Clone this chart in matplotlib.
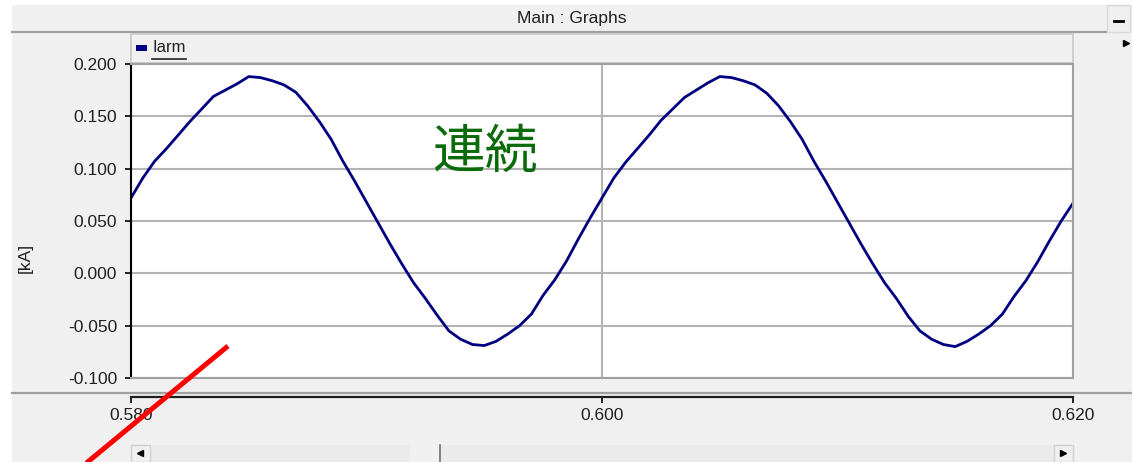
import numpy as np
import matplotlib.pyplot as plt
from matplotlib.patches import Rectangle
from matplotlib.lines import Line2D

W, H = 1132, 462

# arm current [kA], every 0.5 ms
iarm_first = [0.072, 0.091, 0.107, 0.119, 0.132, 0.145, 0.157, 0.169, 0.175, 0.181,
              0.188, 0.187, 0.184, 0.180, 0.173, 0.160, 0.145, 0.128, 0.107, 0.088,
              0.068, 0.048, 0.028, 0.009, -0.009, -0.024, -0.040, -0.055, -0.063, -0.068,
              -0.069, -0.065, -0.058, -0.050, -0.039, -0.021, -0.006, 0.012, 0.033, 0.053,
              0.072]
iarm_second = [0.091, 0.106, 0.119, 0.132, 0.146, 0.157, 0.168, 0.175, 0.182,
               0.188, 0.187, 0.184, 0.180, 0.172, 0.160, 0.145, 0.128, 0.107, 0.088,
               0.068, 0.048, 0.028, 0.009, -0.009, -0.024, -0.041, -0.055, -0.063, -0.068,
               -0.070, -0.065, -0.058, -0.050, -0.039, -0.022, -0.007, 0.011, 0.031, 0.050,
               0.067]
iarm = iarm_first + iarm_second
time = np.linspace(0.580, 0.620, len(iarm))

y_ticks = [0.200, 0.150, 0.100, 0.050, 0.000, -0.050, -0.100]
x_ticks = [0.580, 0.600, 0.620]

plt.rcParams['font.family'] = ['Liberation Sans', 'DejaVu Sans']

GRAY_LINE = '#a0a0a0'
PANEL = '#f0f0f0'
TXT = '#202020'


def fx(px):
    return px / W


def fy(py):
    return 1 - py / H


def fig_rect(x0, y0, x1, y1, zorder=0.5, **kw):
    fig.add_artist(Rectangle((fx(x0), fy(y1)), fx(x1) - fx(x0), fy(y0) - fy(y1),
                             transform=fig.transFigure, zorder=zorder, **kw))


def fig_line(xs, ys, zorder=0.5, **kw):
    fig.add_artist(Line2D([fx(x) for x in xs], [fy(y) for y in ys],
                          transform=fig.transFigure, zorder=zorder, **kw))


fig = plt.figure(figsize=(W / 100, H / 100), dpi=100, facecolor='white')

# window panel + title bar
fig_rect(12, 5, 1132, 462, zorder=-10, facecolor=PANEL, edgecolor='none')
fig_line([12, 1107], [32, 32], color=GRAY_LINE, lw=1.6)
fig.text(fx(572), fy(18), 'Main : Graphs', ha='center', va='center',
         fontsize=12.5, color=TXT)
fig_rect(1107, 5, 1130, 32, facecolor=PANEL, edgecolor='#d8d8d8', lw=1)
fig_line([1114, 1123], [21, 21], color='black', lw=2)
fig.add_artist(Line2D([fx(1126)], [fy(43)], marker='>', ms=5, color='black',
                      transform=fig.transFigure))

# legend strip
fig_rect(131, 34, 1073, 63, facecolor=PANEL, edgecolor='#c8c8c8', lw=1.2)
fig_rect(136, 45, 147, 51, facecolor='#000080', edgecolor='none')
fig.text(fx(153), fy(48), 'Iarm', ha='left', va='center', fontsize=12, color=TXT)
fig_line([152, 186], [59, 59], color=TXT, lw=1.2)

# main plot
ax = fig.add_axes([fx(131), fy(378), (1073 - 131) / W, (378 - 64) / H])
ax.set_zorder(2)
ax.set_facecolor('white')
ax.plot(time, iarm, color='#000080', lw=2.0, solid_joinstyle='round')
ax.set_xlim(0.580, 0.620)
ax.set_ylim(-0.100, 0.200)
ax.set_yticks(y_ticks)
ax.set_yticklabels([f'{v:.3f}' for v in y_ticks])
ax.set_xticks(x_ticks)
ax.tick_params(axis='x', length=0, labelbottom=False)
ax.tick_params(axis='y', length=4.5, width=1.2, color='black', pad=5.5,
               labelsize=12.5, labelcolor=TXT)
ax.grid(True, color='#b4b4b4', lw=1.5)
ax.set_axisbelow(True)
for side in ['top', 'right', 'bottom']:
    ax.spines[side].set_color(GRAY_LINE)
    ax.spines[side].set_linewidth(1.5)
ax.spines['left'].set_color('black')
ax.spines['left'].set_linewidth(1.5)

fig.text(fx(25), fy(258), '[kA]', rotation=90, ha='center', va='center',
         fontsize=12.5, color=TXT)

fig.text(fx(485), fy(152), '連続', ha='center', va='center', fontsize=38,
         color='#0b6b0b', family=['Noto Sans CJK JP', 'DejaVu Sans'], zorder=5)

# separator + time axis
fig_line([12, 1132], [392.5, 392.5], color=GRAY_LINE, lw=1.6)
ax2 = fig.add_axes([fx(131), fy(397), (1073 - 131) / W, 0.5 / H])
ax2.set_zorder(2)
ax2.set_facecolor('none')
ax2.set_xlim(0.580, 0.620)
ax2.set_xticks(x_ticks)
ax2.set_xticklabels([f'{v:.3f}' for v in x_ticks])
ax2.set_yticks([])
ax2.tick_params(axis='x', length=4.5, width=1.2, color='black', pad=3.5,
                labelsize=12.5, labelcolor=TXT)
for side in ['top', 'right', 'left']:
    ax2.spines[side].set_visible(False)
ax2.spines['bottom'].set_color('#202020')
ax2.spines['bottom'].set_linewidth(1.6)

# scroll bar
fig_rect(131, 445, 1073, 462, facecolor='#ebebeb', edgecolor='none')
fig_rect(131, 445, 150, 462, facecolor=PANEL, edgecolor='#d0d0d0', lw=1)
fig_rect(1054, 445, 1073, 462, facecolor=PANEL, edgecolor='#d0d0d0', lw=1)
fig_rect(410, 445, 440, 462, facecolor=PANEL, edgecolor='none')
fig_line([440, 440], [445, 462], color='#707070', lw=1.2)
fig.add_artist(Line2D([fx(140)], [fy(453)], marker='<', ms=5, color='black',
                      transform=fig.transFigure))
fig.add_artist(Line2D([fx(1063)], [fy(453)], marker='>', ms=5, color='black',
                      transform=fig.transFigure))

# red annotation stroke
fig_line([228, 84], [346, 465], zorder=10, color='#ff0000', lw=3.6,
         solid_capstyle='butt')

fig.savefig('out.png', dpi=100, facecolor='white')
